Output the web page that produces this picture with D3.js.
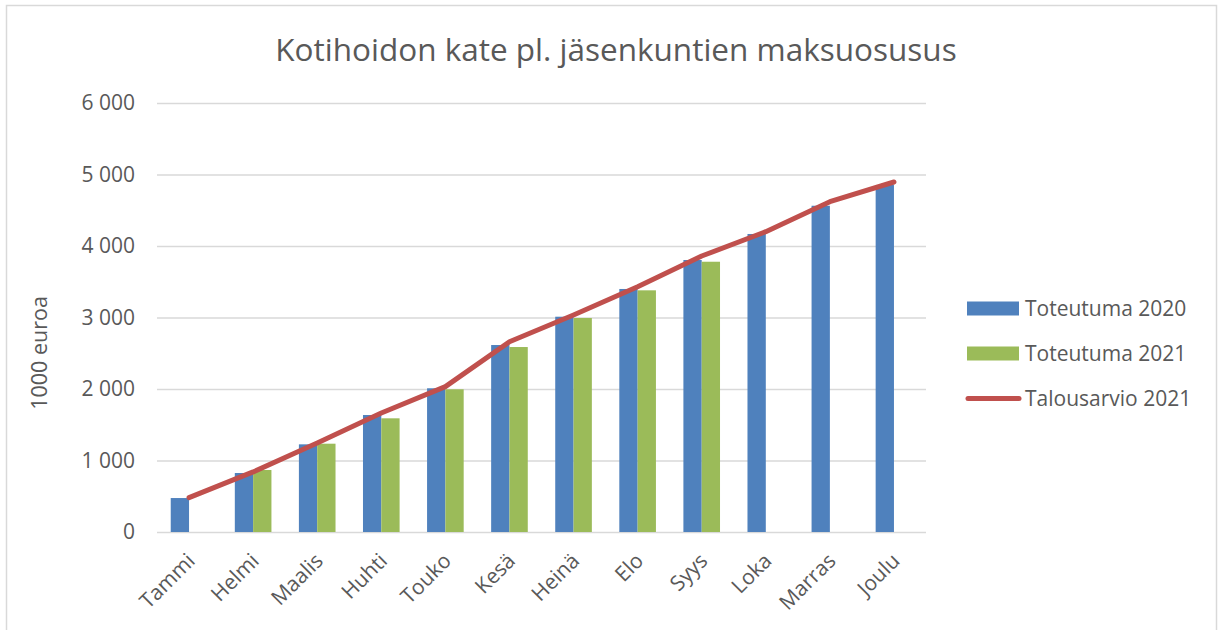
<!DOCTYPE html>
<html lang="fi">

<head>
    <meta charset="UTF-8" />
    <script src="https://d3js.org/d3.v7.min.js"></script>
    <title>Kotihoidon kate</title>
    <style>
        body { margin: 0; background: #fff; }
        text { font-family: "Open Sans", sans-serif; fill: #595959; }
    </style>
</head>

<body>
    <svg id="chart"></svg>

    <script>
        const months = ["Tammi", "Helmi", "Maalis", "Huhti", "Touko", "Kesä", "Heinä", "Elo", "Syys", "Loka", "Marras", "Joulu"];
        const toteutuma2020 = [475, 825, 1226, 1636, 2010, 2615, 3011, 3399, 3804, 4168, 4563, 4853];
        const toteutuma2021 = [null, 867, 1235, 1590, 1996, 2587, 2993, 3380, 3780, null, null, null];
        const talousarvio2021 = [480, 840, 1245, 1665, 2033, 2660, 3035, 3431, 3860, 4200, 4620, 4895];
        const yTicks = [0, 1000, 2000, 3000, 4000, 5000, 6000];

        const W = 1222, H = 630;
        const plot = { left: 157, right: 926, top: 103, bottom: 532 };

        const svg = d3.select("#chart")
            .attr("width", W)
            .attr("height", H);

        // chart frame
        svg.append("rect")
            .attr("x", 6.5).attr("y", 5.5)
            .attr("width", 1210).attr("height", 640)
            .attr("fill", "#fff")
            .attr("stroke", "#d9d9d9")
            .attr("stroke-width", 1.5);

        const x = d3.scaleBand()
            .domain(months)
            .range([plot.left, plot.right])
            .paddingInner(0).paddingOuter(0);

        const y = d3.scaleLinear()
            .domain([0, 6000])
            .range([plot.bottom, plot.top]);

        const fi = d3.formatLocale({ decimal: ",", thousands: " ", grouping: [3], currency: ["", " €"] });
        const fmt = fi.format(",");

        // gridlines + tick labels
        const yAxis = svg.append("g")
            .attr("transform", `translate(${plot.left},0)`)
            .call(d3.axisLeft(y).tickValues(yTicks).tickFormat(fmt)
                .tickSize(-(plot.right - plot.left)).tickPadding(22));
        yAxis.select(".domain").remove();
        yAxis.selectAll(".tick line")
            .attr("stroke", "#d9d9d9")
            .attr("stroke-width", 1.5);
        yAxis.selectAll(".tick text")
            .attr("font-size", 21)
            .attr("fill", "#595959");

        const barW = x.bandwidth() / 3.5;

        // Toteutuma 2020
        svg.append("g")
            .selectAll("rect")
            .data(months.map((m, i) => ({ m, v: toteutuma2020[i] })).filter(d => d.v != null))
            .join("rect")
            .attr("x", d => x(d.m) + x.bandwidth() / 2 - barW)
            .attr("y", d => y(d.v))
            .attr("width", barW)
            .attr("height", d => y(0) - y(d.v))
            .attr("fill", "#4f81bd");

        // Toteutuma 2021
        svg.append("g")
            .selectAll("rect")
            .data(months.map((m, i) => ({ m, v: toteutuma2021[i] })).filter(d => d.v != null))
            .join("rect")
            .attr("x", d => x(d.m) + x.bandwidth() / 2)
            .attr("y", d => y(d.v))
            .attr("width", barW)
            .attr("height", d => y(0) - y(d.v))
            .attr("fill", "#9bbb59");

        // Talousarvio 2021
        const line = d3.line()
            .x((d, i) => x(months[i]) + x.bandwidth() / 2)
            .y(d => y(d));
        svg.append("path")
            .datum(talousarvio2021)
            .attr("d", line)
            .attr("fill", "none")
            .attr("stroke", "#c0504d")
            .attr("stroke-width", 5)
            .attr("stroke-linejoin", "round")
            .attr("stroke-linecap", "round");

        // x labels
        svg.append("g")
            .selectAll("text")
            .data(months)
            .join("text")
            .attr("transform", d => `translate(${x(d) + x.bandwidth() / 2 - 4},${plot.bottom + 19}) rotate(-45)`)
            .attr("text-anchor", "end")
            .attr("dy", "0.75em")
            .attr("font-size", 21)
            .text(d => d);

        // title
        svg.append("text")
            .attr("x", 616)
            .attr("y", 61)
            .attr("text-anchor", "middle")
            .attr("font-size", 31.5)
            .text("Kotihoidon kate pl. jäsenkuntien maksuosusus");

        // y axis title
        svg.append("text")
            .attr("transform", "translate(47,353) rotate(-90)")
            .attr("text-anchor", "middle")
            .attr("font-size", 21.5)
            .text("1000 euroa");

        // legend
        const legend = [
            { name: "Toteutuma 2020", color: "#4f81bd", type: "bar" },
            { name: "Toteutuma 2021", color: "#9bbb59", type: "bar" },
            { name: "Talousarvio 2021", color: "#c0504d", type: "line" }
        ];
        const lg = svg.append("g")
            .selectAll("g")
            .data(legend)
            .join("g")
            .attr("transform", (d, i) => `translate(967,${308.5 + i * 45})`);
        lg.filter(d => d.type === "bar").append("rect")
            .attr("x", 0).attr("y", -7)
            .attr("width", 52).attr("height", 14)
            .attr("fill", d => d.color);
        lg.filter(d => d.type === "line").append("line")
            .attr("x1", 1).attr("x2", 52)
            .attr("stroke", d => d.color)
            .attr("stroke-width", 5)
            .attr("stroke-linecap", "round");
        lg.append("text")
            .attr("x", 58)
            .attr("dy", "0.36em")
            .attr("font-size", 21)
            .text(d => d.name);
    </script>
</body>

</html>
